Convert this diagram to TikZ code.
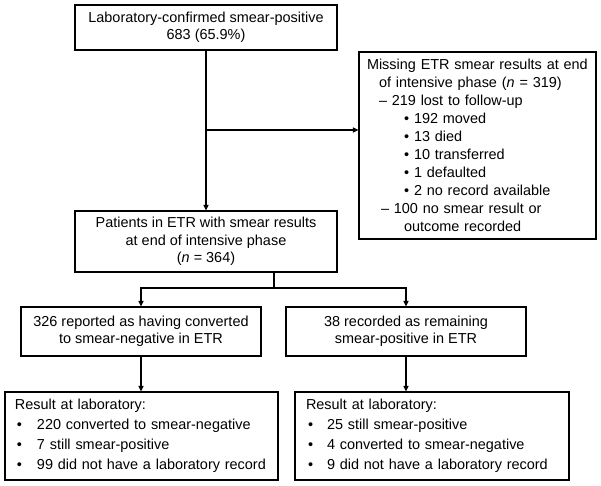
\documentclass[tikz,border=0pt]{standalone}
\usepackage{fontspec}
\setmainfont{Liberation Sans}
\usepackage{tikz}
\usetikzlibrary{arrows.meta}

\newcommand{\bul}[1]{\makebox[#1][l]{\textbullet}}

\begin{document}
\begin{tikzpicture}[x=1bp,y=-1bp,
    box/.style={draw, line width=1.1bp, inner sep=0pt, align=center,
        font=\fontsize{14.5}{17.5}\selectfont},
    leftbox/.style={box, align=left},
    arr/.style={line width=1.1bp, -{Triangle[length=5.5bp,width=5bp]}},
    every path/.style={line width=1.1bp}]
    \useasboundingbox (0,0) rectangle (601,486);

    % boxes
    \node[box, minimum width=262bp, minimum height=45bp] (lab) at (206,27.5)
        {Laboratory-confirmed smear-positive\\683 (65.9\%)};
    \node[leftbox, minimum width=237bp, minimum height=187bp,
        text width=227bp, font=\fontsize{14.5}{18}\selectfont] (miss) at (477.5,145.5)
        {\hspace*{3bp}Missing ETR smear results at end\\
         \hspace*{15bp}of intensive phase (\textit{n} = 319)\\
         \hspace*{15bp}-- 219 lost to follow-up\\
         \hspace*{40bp}\bul{10bp}192 moved\\
         \hspace*{40bp}\bul{10bp}13 died\\
         \hspace*{40bp}\bul{10bp}10 transferred\\
         \hspace*{40bp}\bul{10bp}1 defaulted\\
         \hspace*{40bp}\bul{10bp}2 no record available\\
         \hspace*{17bp}-- 100 no smear result or\\
         \hspace*{40bp}outcome recorded};
    \node[box, minimum width=262bp, minimum height=61bp] (etr) at (206,241.5)
        {Patients in ETR with smear results\\at end of intensive phase\\(\textit{n} = 364)};
    \node[box, minimum width=240bp, minimum height=49bp] (conv) at (141,331.5)
        {326 reported as having converted\\to smear-negative in ETR};
    \node[box, minimum width=240bp, minimum height=49bp] (remain) at (406,331.5)
        {38 recorded as remaining\\smear-positive in ETR};
    \node[leftbox, minimum width=273bp, minimum height=88bp, text width=253bp,
        font=\fontsize{14.5}{20}\selectfont] (labneg) at (141.5,436)
        {Result at laboratory:\\
         \hspace*{2bp}\bul{20bp}220 converted to smear-negative\\
         \hspace*{2bp}\bul{20bp}7 still smear-positive\\
         \hspace*{2bp}\bul{20bp}99 did not have a laboratory record};
    \node[leftbox, minimum width=274bp, minimum height=88bp, text width=252bp,
        font=\fontsize{14.5}{20}\selectfont] (labpos) at (432,436)
        {Result at laboratory:\\
         \hspace*{2bp}\bul{19bp}25 still smear-positive\\
         \hspace*{2bp}\bul{19bp}4 converted to smear-negative\\
         \hspace*{2bp}\bul{19bp}9 did not have a laboratory record};

    % connectors
    \coordinate (side) at (206,130);
    \coordinate (split) at (274,288);
    \draw[arr] (lab.south) -- (etr.north);
    \draw[arr] (side) -- (side -| miss.west);
    \draw[arr] (etr.south -| split) -- (split) -| (conv.north);
    \draw[arr] (split) -| (remain.north);
    \draw[arr] (conv.south) -- (conv.south |- labneg.north);
    \draw[arr] (remain.south) -- (remain.south |- labpos.north);

\end{tikzpicture}
\end{document}
